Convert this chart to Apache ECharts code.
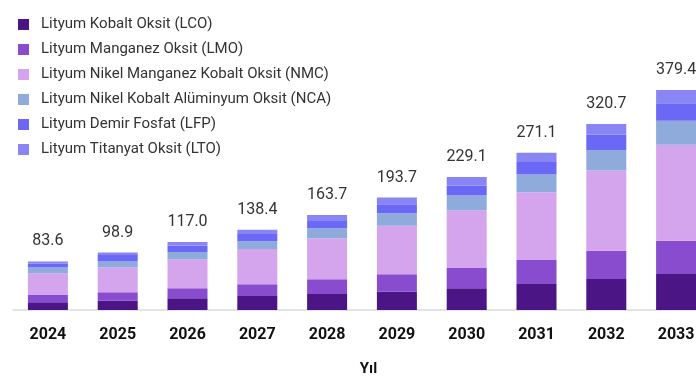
<!DOCTYPE html>
<html><head><meta charset="utf-8">
<script src="https://cdn.jsdelivr.net/npm/echarts@6/dist/echarts.min.js"></script>
<style>html,body{margin:0;padding:0;background:#fff}#c{width:696px;height:385px}</style>
</head><body><div id="c"></div>
<script>
const years = ['2024','2025','2026','2027','2028','2029','2030','2031','2032','2033'];
const totals = [83.6, 98.9, 117.0, 138.4, 163.7, 193.7, 229.1, 271.1, 320.7, 379.4];
const seriesNames = [
  'Lityum Kobalt Oksit (LCO)',
  'Lityum Manganez Oksit (LMO)',
  'Lityum Nikel Manganez Kobalt Oksit (NMC)',
  'Lityum Nikel Kobalt Alüminyum Oksit (NCA)',
  'Lityum Demir Fosfat (LFP)',
  'Lityum Titanyat Oksit (LTO)'
];
const lco = [13.3, 16.1, 20.1, 24.1, 27.6, 31.6, 37.4, 44.9, 53.4, 62.0];
const lmo = [12.6, 14.4, 17.2, 20.1, 25.3, 29.9, 35.1, 41.4, 48.8, 57.4];
const nmc = [37.4, 43.1, 49.9, 60.9, 70.7, 83.9, 99.0, 116.8, 138.0, 165.5];
const nca = [9.8, 9.8, 12.6, 13.2, 17.2, 21.3, 25.9, 30.5, 35.6, 41.4];
const lfp = [6.5, 11.5, 11.5, 12.6, 12.6, 15.5, 17.3, 21.3, 26.4, 29.9];
const lto = [4.0, 4.0, 5.7, 7.5, 10.3, 11.5, 14.4, 16.1, 18.4, 23.0];
const colors = ['#4b1585', '#8a4ccf', '#d4a5ec', '#8eabdc', '#6c68f6', '#8a85f5'];

const values = [lco, lmo, nmc, nca, lfp, lto];
const chart = echarts.init(document.getElementById('c'));
const series = values.map((arr, i) => ({
  name: seriesNames[i],
  type: 'bar',
  stack: 'total',
  barWidth: 40,
  data: arr,
  itemStyle: { color: colors[i] },
  label: i === values.length - 1 ? {
    show: true,
    position: 'top',
    distance: 12,
    fontFamily: 'Roboto',
    fontSize: 16,
    color: '#333',
    formatter: p => totals[p.dataIndex].toFixed(1)
  } : { show: false }
}));
chart.setOption({
  animation: false,
  color: colors,
  legend: {
    orient: 'vertical',
    left: 13,
    top: 12,
    itemWidth: 11,
    itemHeight: 11,
    itemGap: 10,
    icon: 'rect',
    textStyle: { fontFamily: 'Roboto', fontSize: 15, lineHeight: 15, color: '#333', padding: [0, 0, 0, 7] },
    data: seriesNames
  },
  grid: { left: 13, width: 698, top: 10, bottom: 75, containLabel: false, outerBoundsMode: 'none' },
  xAxis: {
    type: 'category',
    data: years,
    axisLine: { lineStyle: { color: '#dcdcdc', width: 1.5 } },
    axisTick: { show: false },
    axisLabel: { margin: 17, fontFamily: 'Roboto', fontWeight: 'bold', fontSize: 16, color: '#111' },
    name: 'Yıl',
    nameLocation: 'middle',
    nameGap: 52,
    nameTextStyle: { fontFamily: 'Roboto', fontWeight: 'bold', fontSize: 15, color: '#111', padding: [0, 0, 0, 13] }
  },
  yAxis: { type: 'value', min: 0, max: 517, show: false, splitLine: { show: false } },
  series: series
});
</script></body></html>
